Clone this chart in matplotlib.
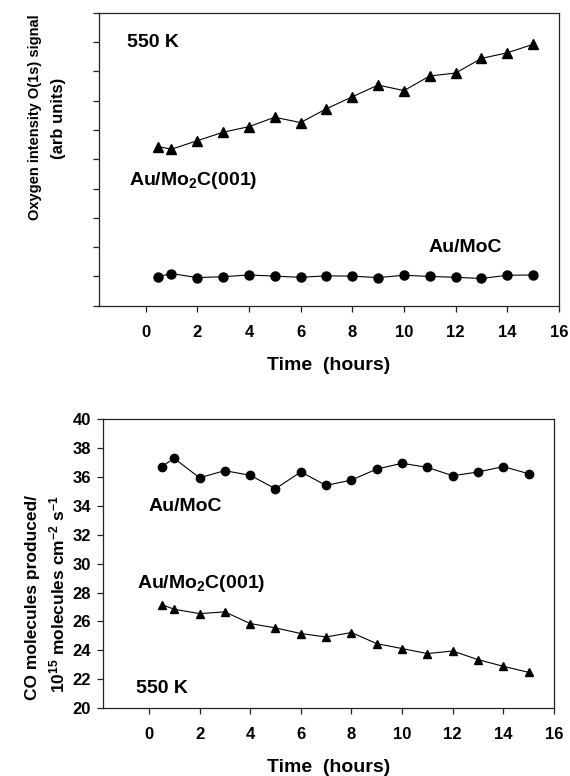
import matplotlib
matplotlib.use('Agg')
import matplotlib.pyplot as plt

plt.rcParams['font.family'] = ['Liberation Sans', 'DejaVu Sans']
plt.rcParams['font.weight'] = 'bold'
plt.rcParams['mathtext.fontset'] = 'custom'
plt.rcParams['mathtext.rm'] = 'Liberation Sans:bold'
plt.rcParams['mathtext.bf'] = 'Liberation Sans:bold'
plt.rcParams['mathtext.default'] = 'bf'

# time axis (hours)
time_h = [0.5, 1, 2, 3, 4, 5, 6, 7, 8, 9, 10, 11, 12, 13, 14, 15]

# top panel: O(1s) intensity, arb units
o1s_mo2c = [5.43, 5.34, 5.63, 5.92, 6.11, 6.43, 6.25, 6.72, 7.13, 7.53, 7.34, 7.84, 7.94, 8.44, 8.63, 8.92]
o1s_moc = [0.99, 1.10, 0.96, 0.99, 1.05, 1.01, 0.97, 1.02, 1.01, 0.96, 1.04, 1.00, 0.97, 0.93, 1.04, 1.05]

# bottom panel: CO molecules produced (10^15 molecules cm^-2 s^-1)
co_moc = [36.72, 37.29, 35.95, 36.44, 36.12, 35.19, 36.35, 35.42, 35.79, 36.55, 36.95, 36.67, 36.09, 36.35, 36.72, 36.23]
co_mo2c = [27.17, 26.84, 26.54, 26.66, 25.85, 25.55, 25.16, 24.92, 25.23, 24.46, 24.12, 23.77, 23.95, 23.35, 22.89, 22.47]

x_ticks = list(range(0, 17, 2))

W, H = 570, 776
fig = plt.figure(figsize=(W / 100, H / 100), dpi=100)
ax1 = fig.add_axes([0.1737, 0.606, 0.807, 0.3777])
ax2 = fig.add_axes([0.1812, 0.0876, 0.7907, 0.3721])

for ax in (ax1, ax2):
    for sp in ax.spines.values():
        sp.set_linewidth(0.9)
        sp.set_color('#222222')
    ax.tick_params(direction='out', length=4, width=0.9, color='#222222', labelsize=12)
    ax.set_xlim(-1.8, 16)
    ax.set_xticks(x_ticks)
    ax.tick_params(axis='x', pad=10)
    ax.set_xlabel('Time  (hours)', fontsize=14, fontweight='bold', labelpad=12)

# top panel
ax1.plot(time_h, o1s_mo2c, color='black', lw=0.8, marker='^', ms=7.5, mec='black', mfc='black')
ax1.plot(time_h, o1s_moc, color='black', lw=0.8, marker='o', ms=6.5, mec='black', mfc='black')
ax1.set_ylim(0, 10)
ax1.set_yticks(range(0, 11))
ax1.set_yticklabels([])
ax1.text(-0.72, 8.97, '550 K', fontsize=14, fontweight='bold', va='center', ha='left')
ax1.text(-0.65, 4.29, 'Au/Mo$_2$C(001)', fontsize=14, fontweight='bold', va='center', ha='left')
ax1.text(10.94, 2.0, 'Au/MoC', fontsize=14, fontweight='bold', va='center', ha='left')
fig.text(35 / W, 1 - 117 / H, 'Oxygen intensity O(1s) signal', rotation=90,
         ha='center', va='center', fontsize=10.5, fontweight='bold')
fig.text(58 / W, 1 - 118 / H, '(arb units)', rotation=90,
         ha='center', va='center', fontsize=12, fontweight='bold')

# bottom panel
ax2.plot(time_h, co_moc, color='black', lw=0.8, marker='o', ms=6, mec='black', mfc='black')
ax2.plot(time_h, co_mo2c, color='black', lw=0.8, marker='^', ms=6, mec='black', mfc='black')
ax2.set_ylim(20, 40)
ax2.set_yticks(range(20, 41, 2))
ax2.tick_params(axis='y', pad=5)
ax2.text(0.0, 33.94, 'Au/MoC', fontsize=14, fontweight='bold', va='center', ha='left')
ax2.text(-0.47, 28.65, 'Au/Mo$_2$C(001)', fontsize=14, fontweight='bold', va='center', ha='left')
ax2.text(-0.5, 21.37, '550 K', fontsize=14, fontweight='bold', va='center', ha='left')
fig.text(33 / W, 1 - 597 / H, 'CO molecules produced/', rotation=90,
         ha='center', va='center', fontsize=12.5, fontweight='bold')
fig.text(57 / W, 1 - 594 / H, '10$^{15}$ molecules cm$^{-2}$ s$^{-1}$', rotation=90,
         ha='center', va='center', fontsize=12.5, fontweight='bold')

fig.savefig('out.png', dpi=100)
